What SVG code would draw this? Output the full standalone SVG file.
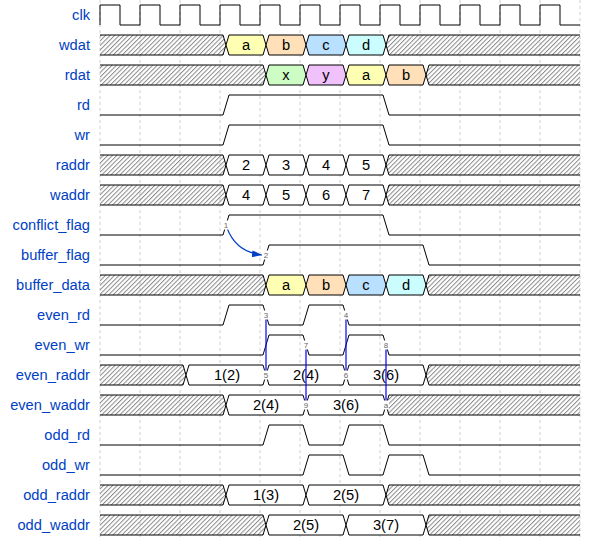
<svg xmlns="http://www.w3.org/2000/svg" width="600" height="540" viewBox="0 0 600 540">
<defs>
<pattern id="hatch" width="3.2" height="3.2" patternUnits="userSpaceOnUse" patternTransform="rotate(45)">
<line x1="0.5" y1="0" x2="0.5" y2="3.2" stroke="#8a8a8a" stroke-width="1"/>
</pattern>
<marker id="ah" markerWidth="10" markerHeight="7" refX="10" refY="3.5" orient="auto" markerUnits="userSpaceOnUse">
<path d="M0,0 L10,3.5 L0,7 z" fill="#0041c4"/>
</marker>
<style>
.lbl{font-family:"Liberation Sans",Arial,Helvetica,sans-serif;font-size:14.67px;fill:#0041c4;text-anchor:end}
.dt{font-family:"Liberation Sans",Arial,Helvetica,sans-serif;font-size:14.67px;fill:#000;text-anchor:middle}
.grid{stroke:#cfcfcf;stroke-width:1;stroke-dasharray:3,3;fill:none}
.w{fill:none;stroke:#000;stroke-width:1}
.hx{fill:url(#hatch);stroke:none}
.seg{stroke:#000;stroke-width:1}
.c0{fill:#fff}
.c3{fill:#ffffb4}
.c4{fill:#ffe0b9}
.c5{fill:#b9e0ff}
.c6{fill:#ccfdfe}
.c7{fill:#cdfdc5}
.c8{fill:#f0c1fb}
.nb{fill:#fff}
.nt{font-family:"Liberation Sans",Arial,Helvetica,sans-serif;font-size:8px;fill:#666;text-anchor:middle}
.vl{stroke:#0000ff;stroke-width:1.2;fill:none}
.arc{stroke:#0041c4;stroke-width:1.2;fill:none}
</style>
</defs>
<rect x="0" y="0" width="600" height="540" fill="#fff"/>
<g id="grid">
<line class="grid" x1="100" y1="0" x2="100" y2="540"/>
<line class="grid" x1="140" y1="0" x2="140" y2="540"/>
<line class="grid" x1="180" y1="0" x2="180" y2="540"/>
<line class="grid" x1="220" y1="0" x2="220" y2="540"/>
<line class="grid" x1="260" y1="0" x2="260" y2="540"/>
<line class="grid" x1="300" y1="0" x2="300" y2="540"/>
<line class="grid" x1="340" y1="0" x2="340" y2="540"/>
<line class="grid" x1="380" y1="0" x2="380" y2="540"/>
<line class="grid" x1="420" y1="0" x2="420" y2="540"/>
<line class="grid" x1="460" y1="0" x2="460" y2="540"/>
<line class="grid" x1="500" y1="0" x2="500" y2="540"/>
<line class="grid" x1="540" y1="0" x2="540" y2="540"/>
<line class="grid" x1="580" y1="0" x2="580" y2="540"/>
</g>

<g id="clk">
<text class="lbl" x="90" y="20">clk</text>
<path class="w" d="M100,25 V5 H120 V25 H140 V5 H160 V25 H180 V5 H200 V25 H220 V5 H240 V25 H260 V5 H280 V25 H300 V5 H320 V25 H340 V5 H360 V25 H380 V5 H400 V25 H420 V5 H440 V25 H460 V5 H480 V25 H500 V5 H520 V25 H540 V5 H560 V25 H580"/>
</g>

<g id="wdat">
<text class="lbl" x="90" y="50">wdat</text>
<polygon class="hx" points="100,35 223,35 226,45 223,55 100,55"/>
<path class="w" d="M100,35 H223 L226,45 L223,55 H100"/>
<polygon class="seg c3" points="226,45 229,35 263,35 266,45 263,55 229,55"/>
<polygon class="seg c4" points="266,45 269,35 303,35 306,45 303,55 269,55"/>
<polygon class="seg c5" points="306,45 309,35 343,35 346,45 343,55 309,55"/>
<polygon class="seg c6" points="346,45 349,35 383,35 386,45 383,55 349,55"/>
<polygon class="hx" points="386,45 389,35 580,35 580,55 389,55"/>
<path class="w" d="M580,35 H389 L386,45 L389,55 H580"/>
<text class="dt" x="246" y="50">a</text>
<text class="dt" x="286" y="50">b</text>
<text class="dt" x="326" y="50">c</text>
<text class="dt" x="366" y="50">d</text>
</g>

<g id="rdat">
<text class="lbl" x="90" y="80">rdat</text>
<polygon class="hx" points="100,65 263,65 266,75 263,85 100,85"/>
<path class="w" d="M100,65 H263 L266,75 L263,85 H100"/>
<polygon class="seg c7" points="266,75 269,65 303,65 306,75 303,85 269,85"/>
<polygon class="seg c8" points="306,75 309,65 343,65 346,75 343,85 309,85"/>
<polygon class="seg c3" points="346,75 349,65 383,65 386,75 383,85 349,85"/>
<polygon class="seg c4" points="386,75 389,65 423,65 426,75 423,85 389,85"/>
<polygon class="hx" points="426,75 429,65 580,65 580,85 429,85"/>
<path class="w" d="M580,65 H429 L426,75 L429,85 H580"/>
<text class="dt" x="286" y="80">x</text>
<text class="dt" x="326" y="80">y</text>
<text class="dt" x="366" y="80">a</text>
<text class="dt" x="406" y="80">b</text>
</g>

<g id="rd">
<text class="lbl" x="90" y="110">rd</text>
<path class="w" d="M100,115 H223 L229,95 H383 L389,115 H580"/>
</g>

<g id="wr">
<text class="lbl" x="90" y="140">wr</text>
<path class="w" d="M100,145 H223 L229,125 H383 L389,145 H580"/>
</g>

<g id="raddr">
<text class="lbl" x="90" y="170">raddr</text>
<polygon class="hx" points="100,155 223,155 226,165 223,175 100,175"/>
<path class="w" d="M100,155 H223 L226,165 L223,175 H100"/>
<polygon class="seg c0" points="226,165 229,155 263,155 266,165 263,175 229,175"/>
<polygon class="seg c0" points="266,165 269,155 303,155 306,165 303,175 269,175"/>
<polygon class="seg c0" points="306,165 309,155 343,155 346,165 343,175 309,175"/>
<polygon class="seg c0" points="346,165 349,155 383,155 386,165 383,175 349,175"/>
<polygon class="hx" points="386,165 389,155 580,155 580,175 389,175"/>
<path class="w" d="M580,155 H389 L386,165 L389,175 H580"/>
<text class="dt" x="246" y="170">2</text>
<text class="dt" x="286" y="170">3</text>
<text class="dt" x="326" y="170">4</text>
<text class="dt" x="366" y="170">5</text>
</g>

<g id="waddr">
<text class="lbl" x="90" y="200">waddr</text>
<polygon class="hx" points="100,185 223,185 226,195 223,205 100,205"/>
<path class="w" d="M100,185 H223 L226,195 L223,205 H100"/>
<polygon class="seg c0" points="226,195 229,185 263,185 266,195 263,205 229,205"/>
<polygon class="seg c0" points="266,195 269,185 303,185 306,195 303,205 269,205"/>
<polygon class="seg c0" points="306,195 309,185 343,185 346,195 343,205 309,205"/>
<polygon class="seg c0" points="346,195 349,185 383,185 386,195 383,205 349,205"/>
<polygon class="hx" points="386,195 389,185 580,185 580,205 389,205"/>
<path class="w" d="M580,185 H389 L386,195 L389,205 H580"/>
<text class="dt" x="246" y="200">4</text>
<text class="dt" x="286" y="200">5</text>
<text class="dt" x="326" y="200">6</text>
<text class="dt" x="366" y="200">7</text>
</g>

<g id="conflict_flag">
<text class="lbl" x="90" y="230">conflict_flag</text>
<path class="w" d="M100,235 H223 L229,215 H383 L389,235 H580"/>
</g>

<g id="buffer_flag">
<text class="lbl" x="90" y="260">buffer_flag</text>
<path class="w" d="M100,265 H263 L269,245 H423 L429,265 H580"/>
</g>

<g id="buffer_data">
<text class="lbl" x="90" y="290">buffer_data</text>
<polygon class="hx" points="100,275 263,275 266,285 263,295 100,295"/>
<path class="w" d="M100,275 H263 L266,285 L263,295 H100"/>
<polygon class="seg c3" points="266,285 269,275 303,275 306,285 303,295 269,295"/>
<polygon class="seg c4" points="306,285 309,275 343,275 346,285 343,295 309,295"/>
<polygon class="seg c5" points="346,285 349,275 383,275 386,285 383,295 349,295"/>
<polygon class="seg c6" points="386,285 389,275 423,275 426,285 423,295 389,295"/>
<polygon class="hx" points="426,285 429,275 580,275 580,295 429,295"/>
<path class="w" d="M580,275 H429 L426,285 L429,295 H580"/>
<text class="dt" x="286" y="290">a</text>
<text class="dt" x="326" y="290">b</text>
<text class="dt" x="366" y="290">c</text>
<text class="dt" x="406" y="290">d</text>
</g>

<g id="even_rd">
<text class="lbl" x="90" y="320">even_rd</text>
<path class="w" d="M100,325 H223 L229,305 H263 L269,325 H303 L309,305 H343 L349,325 H580"/>
</g>

<g id="even_wr">
<text class="lbl" x="90" y="350">even_wr</text>
<path class="w" d="M100,355 H263 L269,335 H303 L309,355 H343 L349,335 H383 L389,355 H580"/>
</g>

<g id="even_raddr">
<text class="lbl" x="90" y="380">even_raddr</text>
<polygon class="hx" points="100,365 183,365 186,375 183,385 100,385"/>
<path class="w" d="M100,365 H183 L186,375 L183,385 H100"/>
<polygon class="seg c0" points="186,375 189,365 263,365 266,375 263,385 189,385"/>
<polygon class="seg c0" points="266,375 269,365 343,365 346,375 343,385 269,385"/>
<polygon class="seg c0" points="346,375 349,365 423,365 426,375 423,385 349,385"/>
<polygon class="hx" points="426,375 429,365 580,365 580,385 429,385"/>
<path class="w" d="M580,365 H429 L426,375 L429,385 H580"/>
<text class="dt" x="227" y="380">1(2)</text>
<text class="dt" x="306" y="380">2(4)</text>
<text class="dt" x="386" y="380">3(6)</text>
</g>

<g id="even_waddr">
<text class="lbl" x="90" y="410">even_waddr</text>
<polygon class="hx" points="100,395 223,395 226,405 223,415 100,415"/>
<path class="w" d="M100,395 H223 L226,405 L223,415 H100"/>
<polygon class="seg c0" points="226,405 229,395 303,395 306,405 303,415 229,415"/>
<polygon class="seg c0" points="306,405 309,395 383,395 386,405 383,415 309,415"/>
<polygon class="hx" points="386,405 389,395 580,395 580,415 389,415"/>
<path class="w" d="M580,395 H389 L386,405 L389,415 H580"/>
<text class="dt" x="266" y="410">2(4)</text>
<text class="dt" x="346" y="410">3(6)</text>
</g>

<g id="odd_rd">
<text class="lbl" x="90" y="440">odd_rd</text>
<path class="w" d="M100,445 H263 L269,425 H303 L309,445 H343 L349,425 H383 L389,445 H580"/>
</g>

<g id="odd_wr">
<text class="lbl" x="90" y="470">odd_wr</text>
<path class="w" d="M100,475 H303 L309,455 H343 L349,475 H383 L389,455 H423 L429,475 H580"/>
</g>

<g id="odd_raddr">
<text class="lbl" x="90" y="500">odd_raddr</text>
<polygon class="hx" points="100,485 223,485 226,495 223,505 100,505"/>
<path class="w" d="M100,485 H223 L226,495 L223,505 H100"/>
<polygon class="seg c0" points="226,495 229,485 303,485 306,495 303,505 229,505"/>
<polygon class="seg c0" points="306,495 309,485 383,485 386,495 383,505 309,505"/>
<polygon class="hx" points="386,495 389,485 580,485 580,505 389,505"/>
<path class="w" d="M580,485 H389 L386,495 L389,505 H580"/>
<text class="dt" x="266" y="500">1(3)</text>
<text class="dt" x="346" y="500">2(5)</text>
</g>

<g id="odd_waddr">
<text class="lbl" x="90" y="530">odd_waddr</text>
<polygon class="hx" points="100,515 263,515 266,525 263,535 100,535"/>
<path class="w" d="M100,515 H263 L266,525 L263,535 H100"/>
<polygon class="seg c0" points="266,525 269,515 343,515 346,525 343,535 269,535"/>
<polygon class="seg c0" points="346,525 349,515 423,515 426,525 423,535 349,535"/>
<polygon class="hx" points="426,525 429,515 580,515 580,535 429,535"/>
<path class="w" d="M580,515 H429 L426,525 L429,535 H580"/>
<text class="dt" x="306" y="530">2(5)</text>
<text class="dt" x="386" y="530">3(7)</text>
</g>

<g id="connectors">
<path class="arc" d="M227,228 Q236,252 262,255" marker-end="url(#ah)"/>
<line class="vl" x1="266" y1="315" x2="266" y2="375"/>
<line class="vl" x1="346" y1="315" x2="346" y2="375"/>
<line class="vl" x1="306" y1="345" x2="306" y2="405"/>
<line class="vl" x1="386" y1="345" x2="386" y2="405"/>
</g>

<g id="node_labels">
<rect class="nb" x="223" y="220.5" width="6" height="9"/><text class="nt" x="226" y="228">1</text>
<rect class="nb" x="263" y="250.5" width="6" height="9"/><text class="nt" x="266" y="258">2</text>
<rect class="nb" x="263" y="310.5" width="6" height="9"/><text class="nt" x="266" y="318">3</text>
<rect class="nb" x="343" y="310.5" width="6" height="9"/><text class="nt" x="346" y="318">4</text>
<rect class="nb" x="263" y="370.5" width="6" height="9"/><text class="nt" x="266" y="378">5</text>
<rect class="nb" x="343" y="370.5" width="6" height="9"/><text class="nt" x="346" y="378">6</text>
<rect class="nb" x="303" y="340.5" width="6" height="9"/><text class="nt" x="306" y="348">7</text>
<rect class="nb" x="383" y="340.5" width="6" height="9"/><text class="nt" x="386" y="348">8</text>
<rect class="nb" x="303" y="400.5" width="6" height="9"/><text class="nt" x="306" y="408">9</text>
<rect class="nb" x="383" y="400.5" width="6" height="9"/><text class="nt" x="386" y="408">a</text>
</g>
</svg>
